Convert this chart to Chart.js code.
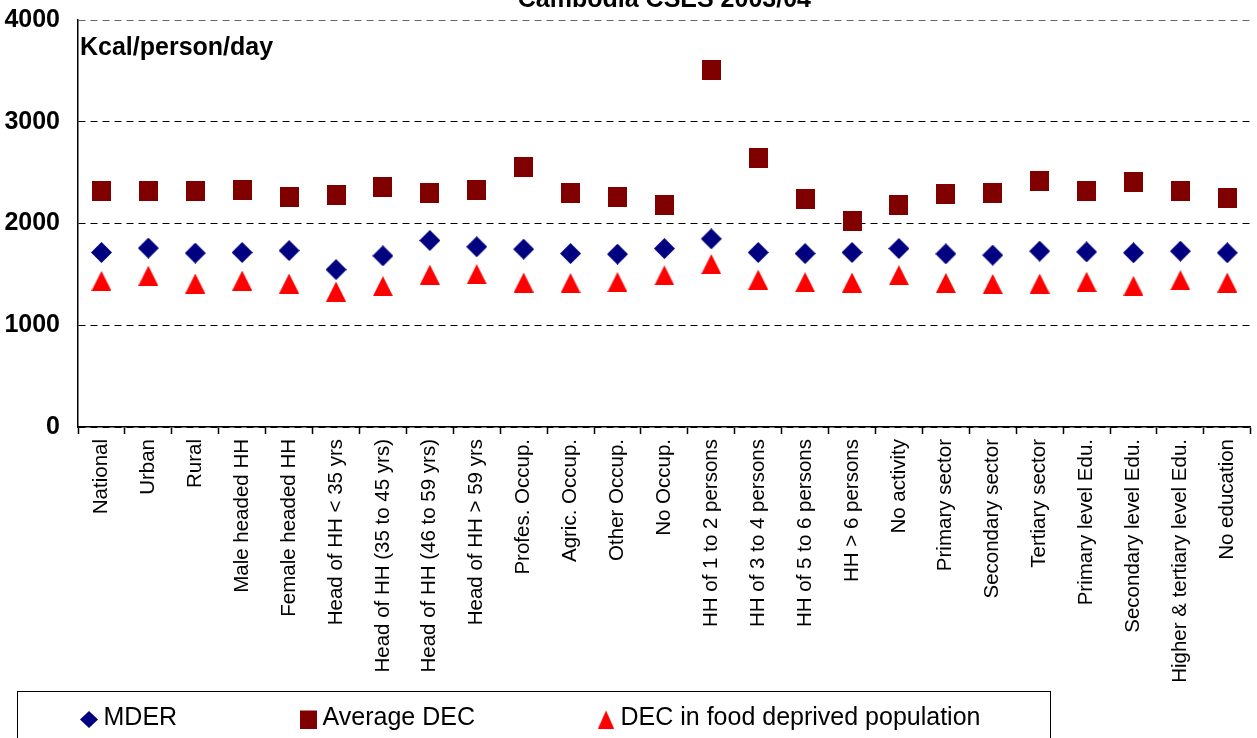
<!DOCTYPE html>
<html>
<head>
<meta charset="utf-8">
<title>Cambodia CSES 2003/04</title>
<script src="https://cdn.jsdelivr.net/npm/chart.js@4.4.1/dist/chart.umd.min.js"></script>
<style>
  html, body { margin: 0; padding: 0; background: #fff; }
  #wrap { position: relative; width: 1257px; height: 738px; }
</style>
</head>
<body>
<div id="wrap"><canvas id="myChart"></canvas></div>
<script>
// dietary energy by household group

const categories = ['National', 'Urban', 'Rural', 'Male headed HH', 'Female headed HH',
    'Head of HH < 35 yrs', 'Head of HH (35 to 45 yrs)', 'Head of HH (46 to 59 yrs)', 'Head of HH > 59 yrs',
    'Profes. Occup.', 'Agric. Occup.', 'Other Occup.', 'No Occup.',
    'HH of 1 to 2 persons', 'HH of 3 to 4 persons', 'HH of 5 to 6 persons', 'HH > 6 persons',
    'No activity', 'Primary sector', 'Secondary sector', 'Tertiary sector',
    'Primary level Edu.', 'Secondary level Edu.', 'Higher & tertiary level Edu.', 'No education']

const mderValues = [1715, 1758, 1709, 1715, 1734, 1547, 1682, 1833, 1771, 1748, 1705, 1699, 1754,
    1849, 1715, 1705, 1715, 1754, 1702, 1689, 1728, 1721, 1712, 1728, 1712]

const averageDecValues = [2315, 2315, 2315, 2325, 2263, 2285, 2354, 2295, 2325, 2555, 2295, 2256, 2182,
    3513, 2644, 2243, 2024, 2184, 2292, 2302, 2414, 2315, 2404, 2315, 2253]

const deprivedDecValues = [1436, 1487, 1410, 1439, 1410, 1331, 1384, 1497, 1502, 1420, 1415, 1424, 1490,
    1601, 1448, 1423, 1420, 1492, 1416, 1406, 1410, 1428, 1387, 1443, 1420]

const yTicks = [0, 1000, 2000, 3000, 4000]
const seriesNames = ['MDER', 'Average DEC', 'DEC in food deprived population']
const chartTitle = 'Cambodia CSES 2003/04'
const unitLabel = 'Kcal/person/day'

const fontFamily = "'Liberation Sans', Arial, sans-serif"

function makeMarker(shape, w, h, color, shiftY) {
    shiftY = shiftY || 0
    const c = document.createElement('canvas')
    c.width = w
    c.height = h + Math.abs(shiftY) * 2
    const ctx = c.getContext('2d')
    const top = Math.abs(shiftY) + shiftY
    ctx.fillStyle = color
    ctx.beginPath()
    if (shape === 'diamond') {
        ctx.moveTo(w / 2, top)
        ctx.lineTo(w, top + h / 2)
        ctx.lineTo(w / 2, top + h)
        ctx.lineTo(0, top + h / 2)
    } else if (shape === 'square') {
        ctx.rect(0, top, w, h)
    } else {
        ctx.moveTo(w / 2, top)
        ctx.lineTo(w, top + h)
        ctx.lineTo(0, top + h)
    }
    ctx.closePath()
    ctx.fill()
    return c
}

const navy = '#000080'
const maroon = '#800000'
const red = '#FF0000'

const plotMarkers = [
    makeMarker('diamond', 21, 21, navy),
    makeMarker('square', 19, 20, maroon),
    makeMarker('triangle', 20, 20, red)
]
const legendMarkers = [
    makeMarker('diamond', 18, 17, navy, 1),
    makeMarker('square', 17, 18, maroon, 1),
    makeMarker('triangle', 16, 18, red, 1)
]

// legend only takes a thin strip in the layout, then gets lifted so its row sits
// in the framed box below the plot (the axis labels run down beside it)
const legendRow = {
    id: 'legendRow',
    afterLayout(chart) {
        const lg = chart.legend
        lg.top = 577
        lg.height = lg.bottom - lg.top
    }
}

// title, unit label and legend frame
const extraText = {
    id: 'extraText',
    afterDraw(chart) {
        const ctx = chart.ctx
        const area = chart.chartArea
        ctx.save()
        ctx.fillStyle = '#000'
        ctx.font = 'bold 25px ' + fontFamily
        ctx.textBaseline = 'alphabetic'
        ctx.textAlign = 'center'
        ctx.fillText(chartTitle, (area.left + area.right) / 2, 7)
        ctx.textAlign = 'left'
        ctx.fillText(unitLabel, area.left + 2, 55)

        const first = chart.legend.legendHitBoxes[0]
        ctx.strokeStyle = '#000'
        ctx.lineWidth = 1
        ctx.strokeRect(17.5, first.top - 14.5, 1033, 80)
        ctx.restore()
    }
}

const ctx = document.getElementById('myChart')
const myChart = new Chart(ctx, {
    type: 'line',
    data: {
        labels: categories,
        datasets: [{
            label: seriesNames[0],
            data: mderValues,
            pointStyle: plotMarkers[0],
            backgroundColor: navy,
            borderColor: navy,
            showLine: false
        }, {
            label: seriesNames[1],
            data: averageDecValues,
            pointStyle: plotMarkers[1],
            backgroundColor: maroon,
            borderColor: maroon,
            showLine: false
        }, {
            label: seriesNames[2],
            data: deprivedDecValues,
            pointStyle: plotMarkers[2],
            backgroundColor: red,
            borderColor: red,
            showLine: false
        }]
    },
    options: {
        responsive: true,
        maintainAspectRatio: false,
        animation: false,
        devicePixelRatio: 1,
        layout: {
            padding: { left: -42, top: 20, right: 0, bottom: 0 }
        },
        scales: {
            x: {
                offset: true,
                grid: {
                    offset: true,
                    drawOnChartArea: false,
                    drawTicks: true,
                    tickLength: 7,
                    tickColor: '#000',
                    tickWidth: 1.5
                },
                border: { display: true, color: '#000', width: 1.5 },
                ticks: {
                    autoSkip: false,
                    minRotation: 90,
                    maxRotation: 90,
                    padding: 5,
                    color: '#000',
                    font: { family: fontFamily, size: 20.5 }
                },
                afterFit: function(scale) {
                    scale.height = 280
                }
            },
            y: {
                min: yTicks[0],
                max: yTicks[yTicks.length - 1],
                afterBuildTicks: function(scale) {
                    scale.ticks = yTicks.map(v => ({ value: v }))
                },
                grid: {
                    drawTicks: true,
                    tickLength: 18,
                    tickColor: 'rgba(0,0,0,0)',
                    color: c => c.tick && c.tick.value === 4000 ? '#666' : '#000',
                    lineWidth: 1
                },
                border: { display: true, color: '#000', width: 1.5, dash: [7, 5] },
                ticks: {
                    padding: 0,
                    color: '#000',
                    font: { family: fontFamily, size: 25, weight: 'bold' },
                    callback: v => String(v)
                },
                afterFit: function(scale) {
                    scale.width = 120
                }
            }
        },
        plugins: {
            title: { display: false },
            tooltip: { enabled: false },
            legend: {
                display: true,
                position: 'bottom',
                align: 'start',
                maxHeight: 31,
                labels: {
                    usePointStyle: true,
                    pointStyleWidth: 4,
                    padding: 129,
                    color: '#000',
                    font: { family: fontFamily, size: 25 },
                    generateLabels: function(chart) {
                        const items = Chart.defaults.plugins.legend.labels.generateLabels(chart)
                        items.forEach((item, i) => {
                            item.pointStyle = legendMarkers[i]
                        })
                        return items
                    }
                }
            }
        }
    },
    plugins: [legendRow, extraText]
})
</script>
</body>
</html>
